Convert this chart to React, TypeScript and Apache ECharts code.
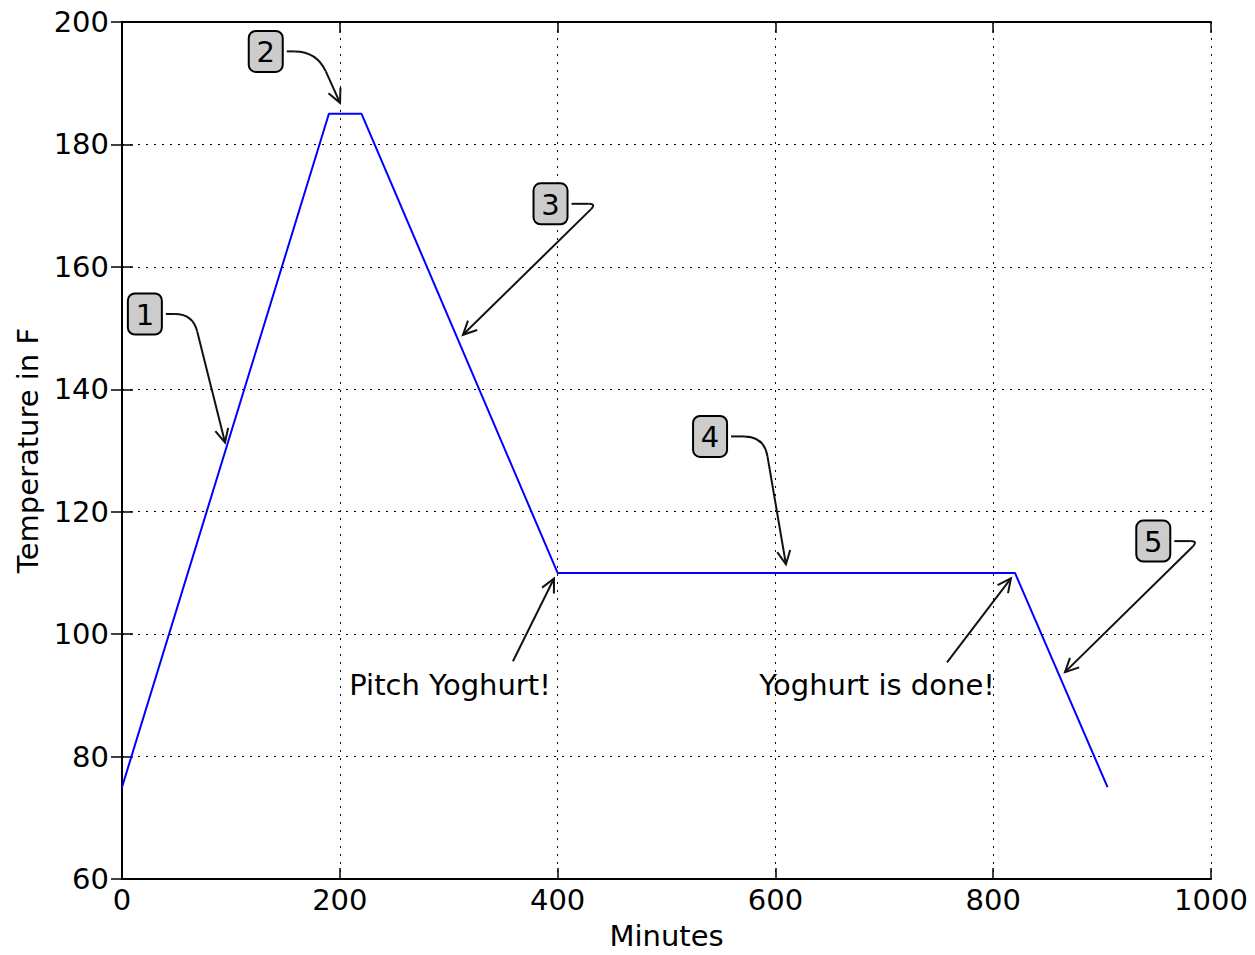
import React, { useEffect, useRef } from "react";
import * as echarts from "echarts";

// ---- data ----
const minutes = [0, 190, 220, 400, 820, 905];
const temperatures = [75, 185, 185, 110, 110, 75];

const xTicks = [0, 200, 400, 600, 800, 1000];
const yTicks = [60, 80, 100, 120, 140, 160, 180, 200];

// numbered step annotations (data coordinates)
const stepLabels = ["1", "2", "3", "4", "5"];
const stepBoxX = [21, 132, 393.5, 540, 947];
const stepBoxY = [152.3, 195.2, 170.3, 132.3, 115.2];
const stepTipX = [94.6, 200.2, 313.1, 609.7, 865.9];
const stepTipY = [131.3, 186.8, 148.9, 111.4, 93.8];

// text annotations (data coordinates)
const noteLabels = ["Pitch Yoghurt!", "Yoghurt is done!"];
const noteTextX = [301.2, 693.3];
const noteTextY = [91.65, 91.65];
const noteTailX = [359, 757.6];
const noteTailY = [95.57, 95.4];
const noteTipX = [396.7, 816.3];
const noteTipY = [109.1, 109.1];

// ---- styles ----
const FONT = "DejaVu Sans";
const FS = 29;
const cornerDx = [27, 30, 25, 33, 24];
const cornerR = [18, 22, 8, 20, 8];
const BOX_W = 34;
const BOX_H = 41;

function arrowHead(tx: number, ty: number, ux: number, uy: number) {
  const len = 15;
  const ang = (26 * Math.PI) / 180;
  const bx = -ux, by = -uy;
  const c = Math.cos(ang), s = Math.sin(ang);
  const h1 = [tx + len * (bx * c - by * s), ty + len * (bx * s + by * c)];
  const h2 = [tx + len * (bx * c + by * s), ty + len * (-bx * s + by * c)];
  return {
    type: "polyline",
    shape: { points: [h1, [tx, ty], h2] },
    style: { stroke: "#111", lineWidth: 2, fill: null },
    silent: true,
  };
}

export default function App() {
  const ref = useRef<HTMLDivElement>(null);
  useEffect(() => {
    if (!ref.current) return;
    const chart = echarts.init(ref.current, null, { renderer: "svg" });
    const axisCommon = {
      type: "value",
      axisLine: { show: true, lineStyle: { color: "#000", width: 2 } },
      axisTick: { show: true, inside: true, length: 11, lineStyle: { color: "#000", width: 1.5 } },
    };
    const option: any = {
      animation: false,
      backgroundColor: "#fff",
      grid: { left: 122, right: 44, top: 22, bottom: 75, containLabel: false },
      xAxis: [
        {
          ...axisCommon,
          min: xTicks[0],
          max: xTicks[xTicks.length - 1],
          interval: xTicks[1] - xTicks[0],
          name: "Minutes",
          nameLocation: "middle",
          nameGap: 42,
          nameTextStyle: { fontFamily: FONT, fontSize: FS, color: "#000" },
          axisLabel: {
            fontFamily: FONT,
            fontSize: FS,
            color: "#000",
            margin: 6,
            formatter: (v: number) => String(v),
          },
          splitLine: { show: true, lineStyle: { color: "#000", width: 1, type: [2, 6] } },
        },
        {
          ...axisCommon,
          position: "top",
          min: xTicks[0],
          max: xTicks[xTicks.length - 1],
          interval: xTicks[1] - xTicks[0],
          axisLabel: { show: false },
          splitLine: { show: false },
        },
      ],
      yAxis: [
        {
          ...axisCommon,
          min: yTicks[0],
          max: yTicks[yTicks.length - 1],
          interval: yTicks[1] - yTicks[0],
          name: "Temperature in F",
          nameLocation: "middle",
          nameGap: 80,
          nameTextStyle: { fontFamily: FONT, fontSize: FS, color: "#000" },
          axisLabel: {
            fontFamily: FONT,
            fontSize: FS,
            color: "#000",
            margin: 13,
            formatter: (v: number) => String(v),
          },
          splitLine: { show: true, lineStyle: { color: "#000", width: 1, type: [2, 6] } },
        },
        {
          ...axisCommon,
          position: "right",
          min: yTicks[0],
          max: yTicks[yTicks.length - 1],
          interval: yTicks[1] - yTicks[0],
          axisLabel: { show: false },
          splitLine: { show: false },
        },
      ],
      series: [
        {
          type: "line",
          xAxisIndex: 0,
          yAxisIndex: 0,
          data: minutes.map((m, i) => [m, temperatures[i]]),
          symbol: "none",
          lineStyle: { color: "#0000ff", width: 2 },
          itemStyle: { color: "#0000ff" },
        },
      ],
    };
    chart.setOption(option);

    const px = (x: number, y: number) =>
      chart.convertToPixel({ xAxisIndex: 0, yAxisIndex: 0 }, [x, y]) as number[];

    const graphics: any[] = [];
    stepLabels.forEach((lab, i) => {
      const [cx, cy] = px(stepBoxX[i], stepBoxY[i]);
      const [tx, ty] = px(stepTipX[i], stepTipY[i]);
      const sx = cx + BOX_W / 2 + 4;
      const sy = cy;
      const Cx = sx + cornerDx[i];
      const Cy = sy;
      const r = cornerR[i];
      const dx = tx - Cx, dy = ty - Cy;
      const d = Math.hypot(dx, dy);
      const ux = dx / d, uy = dy / d;
      const p1 = [Cx - r, Cy];
      const p2 = [Cx + r * ux, Cy + r * uy];
      graphics.push({
        type: "line",
        shape: { x1: sx, y1: sy, x2: p1[0], y2: p1[1] },
        style: { stroke: "#111", lineWidth: 2 },
        silent: true,
      });
      graphics.push({
        type: "bezierCurve",
        shape: { x1: p1[0], y1: p1[1], x2: p2[0], y2: p2[1], cpx1: Cx, cpy1: Cy },
        style: { stroke: "#111", lineWidth: 2, fill: null },
        silent: true,
      });
      graphics.push({
        type: "line",
        shape: { x1: p2[0], y1: p2[1], x2: tx, y2: ty },
        style: { stroke: "#111", lineWidth: 2 },
        silent: true,
      });
      graphics.push(arrowHead(tx, ty, ux, uy));
      graphics.push({
        type: "rect",
        shape: { x: cx - BOX_W / 2, y: cy - BOX_H / 2, width: BOX_W, height: BOX_H, r: 7 },
        style: { fill: "#cccccc", stroke: "#000", lineWidth: 2 },
        silent: true,
      });
      graphics.push({
        type: "text",
        x: cx,
        y: cy + 1,
        style: {
          text: lab,
          fontFamily: FONT,
          fontSize: FS,
          fill: "#000",
          align: "center",
          verticalAlign: "middle",
          textAlign: "center",
          textVerticalAlign: "middle",
        },
        silent: true,
      });
    });

    noteLabels.forEach((lab, i) => {
      const [cx, cy] = px(noteTextX[i], noteTextY[i]);
      const [ax, ay] = px(noteTailX[i], noteTailY[i]);
      const [tx, ty] = px(noteTipX[i], noteTipY[i]);
      const dx = tx - ax, dy = ty - ay;
      const d = Math.hypot(dx, dy);
      graphics.push({
        type: "line",
        shape: { x1: ax, y1: ay, x2: tx, y2: ty },
        style: { stroke: "#111", lineWidth: 2 },
        silent: true,
      });
      graphics.push(arrowHead(tx, ty, dx / d, dy / d));
      graphics.push({
        type: "text",
        x: cx,
        y: cy,
        style: {
          text: lab,
          fontFamily: FONT,
          fontSize: FS,
          fill: "#000",
          align: "center",
          verticalAlign: "middle",
          textAlign: "center",
          textVerticalAlign: "middle",
        },
        silent: true,
      });
    });

    chart.setOption({ graphic: graphics });
    return () => chart.dispose();
  }, []);

  return <div ref={ref} style={{ width: 1255, height: 955, margin: -8 }} />;
}
